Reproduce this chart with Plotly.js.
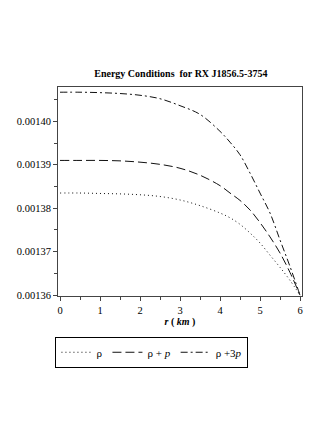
<!DOCTYPE html>
<html>
<head>
<meta charset="utf-8">
<script src="https://cdn.plot.ly/plotly-3.0.1.min.js"></script>
<style>
  body { margin: 0; background: #fff; }
  #grafico { width: 327px; height: 423px; }
</style>
</head>
<body>
<div id="grafico"></div>
<script>
// radio r (km)
let radios = [0, 0.5, 1, 1.5, 2, 2.5, 3, 3.5, 4, 4.25, 4.5, 4.75, 5, 5.25, 5.5, 5.75, 6];
// rho
let valRho = [0.0013835, 0.0013835, 0.0013834, 0.0013833, 0.0013831, 0.0013827, 0.0013819, 0.0013806,
              0.0013789, 0.0013778, 0.0013763, 0.0013743, 0.0013720, 0.0013692, 0.0013664, 0.0013634, 0.0013600];
// rho + p
let valRhoP = [0.0013910, 0.0013910, 0.0013910, 0.0013909, 0.0013906, 0.0013901, 0.0013892, 0.0013876,
               0.0013852, 0.0013835, 0.0013818, 0.0013796, 0.0013767, 0.0013734, 0.0013697, 0.0013652, 0.0013600];
// rho + 3p
let valRho3P = [0.0014067, 0.0014067, 0.0014066, 0.0014064, 0.0014060, 0.0014052, 0.0014036, 0.0014016,
                0.0013977, 0.0013952, 0.0013923, 0.0013881, 0.0013835, 0.0013789, 0.0013727, 0.0013666, 0.0013600];
let nombres = ['ρ', 'ρ + <i>p</i>', 'ρ +3<i>p</i>'];
let ticksY = [0.00136, 0.00137, 0.00138, 0.00139, 0.00140];
let ticksX = [0, 1, 2, 3, 4, 5, 6];

let fuente = '"Liberation Serif", "Times New Roman", serif';

let graf1 = {
    x: radios, y: valRho, name: nombres[0], type: 'scatter', mode: 'lines',
    line: {color: '#111', width: 1, dash: '1px,3px', shape: 'spline'}
};
let graf2 = {
    x: radios, y: valRhoP, name: nombres[1], type: 'scatter', mode: 'lines',
    line: {color: '#111', width: 1, dash: '9px,4px', shape: 'spline'}
};
let graf3 = {
    x: radios, y: valRho3P, name: nombres[2], type: 'scatter', mode: 'lines',
    line: {color: '#111', width: 1, dash: '7px,3px,2px,3px', shape: 'spline'}
};

let layout = {
    width: 327,
    height: 423,
    margin: {l: 58, r: 25, t: 87, b: 127},
    paper_bgcolor: 'white',
    plot_bgcolor: 'white',
    font: {family: fuente, size: 10, color: 'black'},
    title: {
        text: '<b>Energy Conditions  for RX J1856.5-3754</b>',
        font: {family: fuente, size: 10, color: 'black'},
        x: 0.553, xanchor: 'center', y: 1 - 73 / 423, yanchor: 'middle'
    },
    xaxis: {
        title: {text: '<b><i>r</i> ( <i>km</i> )</b>', font: {family: fuente, size: 10}, standoff: 0},
        range: [-0.05, 6.05],
        tickvals: ticksX,
        tickfont: {family: fuente, size: 10.5, color: 'black'},
        ticks: 'outside', ticklen: 4, tickwidth: 1, tickcolor: '#444',
        minor: {dtick: 0.5, ticks: 'outside', ticklen: 3, tickcolor: '#444'},
        showline: true, linecolor: '#444', linewidth: 1, mirror: true,
        showgrid: false, zeroline: false
    },
    yaxis: {
        range: [0.0013598, 0.0014079],
        tickvals: ticksY,
        tickformat: '.5f',
        tickfont: {family: fuente, size: 10.5, color: 'black'},
        ticks: 'outside', ticklen: 4, tickwidth: 1, tickcolor: '#444',
        minor: {dtick: 0.000005, ticks: 'outside', ticklen: 3, tickcolor: '#444'},
        showline: true, linecolor: '#444', linewidth: 1, mirror: true,
        showgrid: false, zeroline: false
    },
    showlegend: true,
    legend: {
        orientation: 'h',
        x: 0.385, xanchor: 'center',
        y: -0.195, yanchor: 'top',
        bordercolor: 'black', borderwidth: 1,
        font: {family: fuente, size: 11, color: 'black'},
        itemwidth: 30,
        tracegroupgap: 0
    }
};

let contenedor = document.getElementById('grafico');
Plotly.newPlot(contenedor, [graf1, graf2, graf3], layout, {displayModeBar: false});
</script>
</body>
</html>
